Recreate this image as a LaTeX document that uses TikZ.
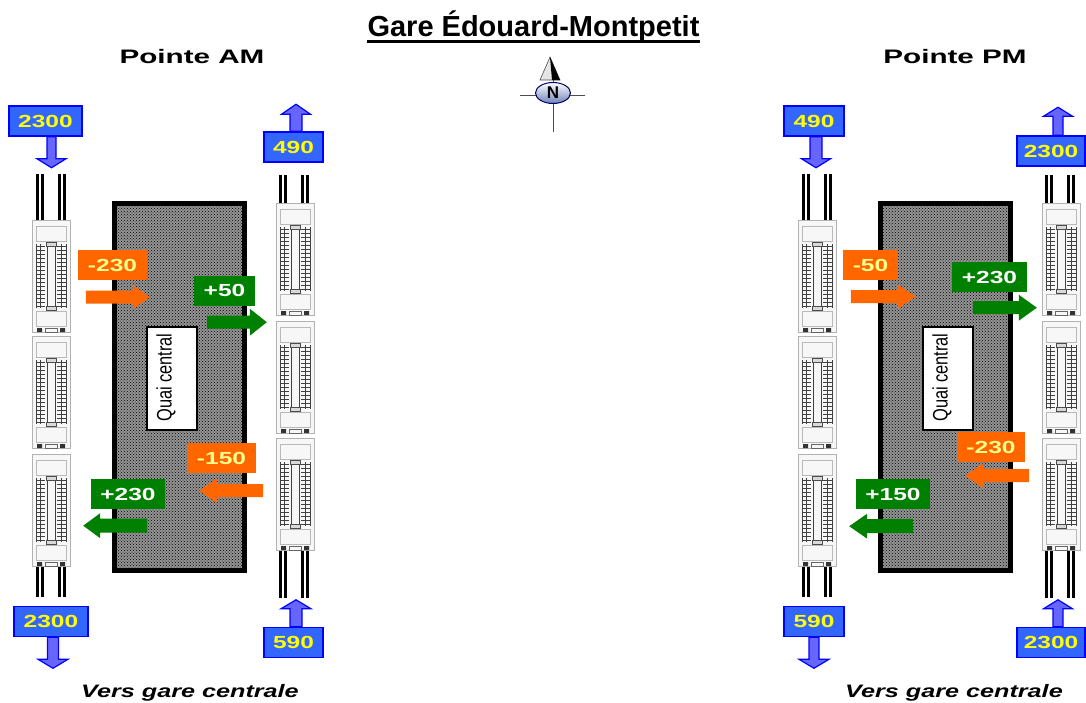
\documentclass[tikz,border=0pt]{standalone}
\usepackage{fontspec}
\setmainfont{Liberation Sans}
\newfontfamily\widesans[FakeStretch=1.40]{Liberation Sans}
\newfontfamily\headsans[FakeStretch=1.52]{Liberation Sans}
\newfontfamily\narrowsans[FakeStretch=0.78]{Liberation Sans}
\usetikzlibrary{patterns,calc,shapes.geometric}

\definecolor{boxblue}{RGB}{51,102,255}
\definecolor{arrblue}{RGB}{102,102,255}
\definecolor{orng}{RGB}{255,102,0}
\definecolor{grn}{RGB}{0,128,0}
\definecolor{numyellow}{RGB}{255,255,0}
\definecolor{paleyellow}{RGB}{255,255,140}
\definecolor{compassblue}{RGB}{110,130,185}

% #1 style, #2 start, #3 angle, #4 length, #5 head length, #6 shaft half width, #7 head half width
\newcommand\blockarr[7]{\path[#1,shift={(#2)},rotate=#3] (0,-#6) -- (#4-#5,-#6) -- (#4-#5,-#7) -- (#4,0) -- (#4-#5,#7) -- (#4-#5,#6) -- (0,#6) -- cycle;}

\begin{document}
\begin{tikzpicture}[x=1pt,y=-1pt,
  numbox/.style={inner sep=0pt, font=\widesans\bfseries\fontsize{17.5}{20}\selectfont},
  bluebox/.style={numbox, draw=blue, line width=1.5pt, fill=boxblue, text=numyellow, minimum height=30pt},
  orangebox/.style={numbox, fill=orng, text=paleyellow, minimum height=30pt},
  greenbox/.style={numbox, fill=grn, text=white, minimum height=30pt},
  barrow/.style={fill=arrblue, draw=blue, line width=1.2pt},
  oarrow/.style={fill=orng},
  garrow/.style={fill=grn},
  rail/.style={line width=3pt, black},
  platform/.style={draw=black, line width=5pt, inner sep=0pt, minimum width=130pt, minimum height=367pt,
     preaction={fill=black!42}, pattern=crosshatch dots, pattern color=black},
  quaibox/.style={draw=black, line width=2pt, fill=white, inner sep=0pt, minimum width=50pt, minimum height=103pt},
  quaitext/.style={inner sep=0pt, font=\narrowsans\fontsize{21}{22}\selectfont, rotate=90},
  head/.style={inner sep=0pt, anchor=base, font=\headsans\bfseries\fontsize{19.5}{22}\selectfont},
  foot/.style={inner sep=0pt, anchor=base, font=\widesans\bfseries\itshape\fontsize{18}{20}\selectfont},
  car/.pic={
    \draw[gray!60, fill=gray!6, line width=0.8pt] (-19,0) rectangle (19,112);
    \draw[gray!55, line width=0.7pt] (-15,6) rectangle (15,21);
    \draw[gray!55, line width=0.7pt] (-15,91) rectangle (15,106);
    \foreach \k in {0,...,15} {
      \draw[gray!50!black, line width=0.45pt] (-15,{26+4*\k}) -- (-6,{26+4*\k}) (6,{26+4*\k}) -- (15,{26+4*\k});
    }
    \draw[gray!50!black, line width=0.6pt] (-15,24) -- (-15,88) (15,24) -- (15,88) (-4,25) -- (-4,86) (4,25) -- (4,86)
       (-10.5,24) -- (-10.5,88) (10.5,24) -- (10.5,88);
    \draw[black!70, fill=gray!30, line width=0.6pt] (-5,22) rectangle (5,26) (-5,86) rectangle (5,90);
    \fill[black!80] (-14,108) rectangle (-9,112) (9,108) rectangle (14,112);
    \draw[black!60, line width=0.6pt] (-6,108) rectangle (6,112);
  }
]
\useasboundingbox (0,0) rectangle (1086,702);
\fill[white] (0,0) rectangle (1086,702);

% ---------- title ----------
\node[inner sep=0pt, anchor=base, font=\bfseries\fontsize{29}{32}\selectfont] (title) at (533.5,36) {Gare Édouard-Montpetit};
\draw[line width=2.5pt] ($(title.base west)+(0,5.5)$) -- ($(title.base east)+(0,5.5)$);

\node[head] (pam) at (192,63) {Pointe AM};
\node[head] (ppm) at (955,63) {Pointe PM};
\node[foot] (vers1) at (190,697) {Vers gare centrale};
\node[foot] (vers2) at (954,697) {Vers gare centrale};

% ---------- compass ----------
\draw[gray!60!black, line width=1pt] (520,95) -- (585,95) (553,77) -- (553,132);
\draw[black!70, line width=0.6pt, fill=gray!20] (550,57) -- (540,80) -- (560,80) -- cycle;
\fill[black] (550,57) -- (552,80) -- (560,80) -- cycle;
\node[ellipse, draw=blue!40!black, line width=1pt, top color=white, bottom color=compassblue, inner sep=0pt,
      minimum width=35pt, minimum height=21pt, font=\bfseries\fontsize{17}{17}\selectfont] (compass) at (553,93) {N};

% ---------- rails ----------
\foreach \cx/\ya/\yb/\yc/\yd in {51/174/220/566/597, 294/175/203/550/598, 817/174/220/566/597, 1060/175/203/550/598} {
  \foreach \dx in {-13.5,-8.5,8,13.5} {
    \draw[rail] ({\cx+\dx},\ya) -- ({\cx+\dx},\yb);
    \draw[rail] ({\cx+\dx},\yc) -- ({\cx+\dx},\yd);
  }
}
% ---------- cars ----------
\foreach \cx in {51,817} {
  \pic at (\cx,220) {car};
  \pic at (\cx,336) {car};
  \pic at (\cx,454) {car};
}
\foreach \cx in {295,1061} {
  \pic at (\cx,203) {car};
  \pic at (\cx,321) {car};
  \pic at (\cx,438) {car};
}

% ---------- platforms ----------
\node[platform] (P1) at (179.5,387) {};
\node[platform] (P2) at (945.5,387) {};
\node[quaibox] (Q1) at (172,378.5) {};
\node[quaitext] (Q1t) at (166,377.5) {Quai central};
\node[quaibox] (Q2) at (948,378.5) {};
\node[quaitext] (Q2t) at (942,377.5) {Quai central};

% ---------- AM boxes ----------
\node[bluebox, minimum width=73pt] (B1) at (45.5,121) {2300};
\node[bluebox, minimum width=59pt] (B2) at (293.5,147) {490};
\node[bluebox, minimum width=74pt] (B3) at (51,621.5) {2300};
\node[bluebox, minimum width=59pt] (B4) at (293.5,642.5) {590};
\node[orangebox, minimum width=69pt] (O1) at (112.5,265) {-230};
\node[greenbox, minimum width=61pt] (G1) at (224.5,290.5) {+50};
\node[orangebox, minimum width=69pt] (O2) at (221.5,458) {-150};
\node[greenbox, minimum width=74pt] (G2) at (128,494) {+230};

\blockarr{barrow}{$(B1.south)+(6,0)$}{-90}{31}{9}{4.5}{14.5}
\blockarr{barrow}{$(B2.north)+(2.5,0)$}{90}{27}{10}{6}{14.5}
\blockarr{barrow}{$(B3.south)+(2,0)$}{-90}{31}{9}{5.5}{15}
\blockarr{barrow}{$(B4.north)+(2.5,0)$}{90}{27}{9}{6}{15}
\blockarr{oarrow}{$(O1.south west)+(8,17)$}{0}{64}{17}{6.5}{12}
\blockarr{garrow}{$(G1.south west)+(13,16.5)$}{0}{60}{17}{6.5}{13.5}
\blockarr{oarrow}{$(O2.south east)+(7,17.5)$}{180}{64}{18}{6.5}{12.5}
\blockarr{garrow}{$(G2.south east)+(-18,16.5)$}{180}{64}{17}{7}{12.5}

% ---------- PM boxes ----------
\node[bluebox, minimum width=60pt] (B5) at (814,121) {490};
\node[bluebox, minimum width=68pt] (B6) at (1051,151) {2300};
\node[bluebox, minimum width=60pt] (B7) at (814,621.5) {590};
\node[bluebox, minimum width=68pt] (B8) at (1051,642.5) {2300};
\node[orangebox, minimum width=55pt] (O3) at (870.5,265) {-50};
\node[greenbox, minimum width=75pt] (G3) at (989.5,277) {+230};
\node[orangebox, minimum width=68pt] (O4) at (991,447) {-230};
\node[greenbox, minimum width=74pt] (G4) at (893,494) {+150};

\blockarr{barrow}{$(B5.south)+(2,0)$}{-90}{31}{9}{6}{14.5}
\blockarr{barrow}{$(B6.north)+(7,0)$}{90}{28}{9}{5}{14.5}
\blockarr{barrow}{$(B7.south)+(0,0)$}{-90}{31}{9}{5}{15}
\blockarr{barrow}{$(B8.north)+(7,0)$}{90}{27}{9}{5}{14.5}
\blockarr{oarrow}{$(O3.south west)+(8,16.5)$}{0}{65}{18}{6.5}{12}
\blockarr{garrow}{$(G3.south west)+(21,15.5)$}{0}{64}{18}{6.5}{13}
\blockarr{oarrow}{$(O4.south east)+(4,13.5)$}{180}{64}{18}{6.5}{12.5}
\blockarr{garrow}{$(G4.south east)+(-17,17)$}{180}{64}{18}{7}{12.5}
\end{tikzpicture}
\end{document}
